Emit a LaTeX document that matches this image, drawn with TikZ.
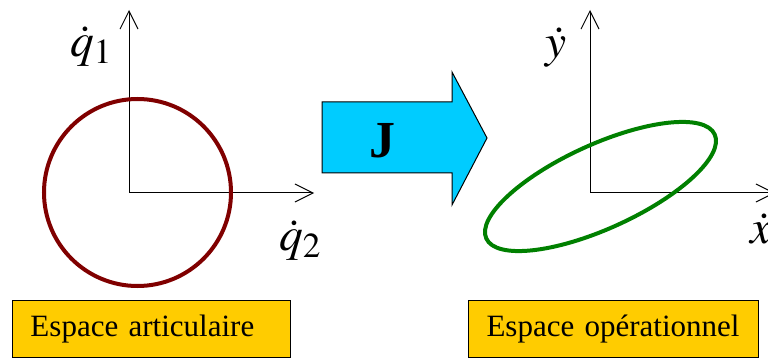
\documentclass[tikz,border=0pt]{standalone}
\usepackage{mathptmx}
\usepackage{fontspec}
\setmainfont{Liberation Serif}
\usetikzlibrary{arrows.meta,shapes.geometric}
\definecolor{dred}{RGB}{128,0,0}
\definecolor{dgreen}{RGB}{0,128,0}
\definecolor{jcyan}{RGB}{0,204,255}
\definecolor{boxorange}{RGB}{255,204,0}
\tikzset{
  axis/.style={line width=1pt, -{Straight Barb[length=18pt,width=18pt,line width=1pt]}},
  lbl/.style={font=\fontsize{38}{44}\selectfont, inner sep=0pt, scale=1.25},
  spacebox/.style={draw, fill=boxorange, line width=1pt, anchor=north west,
    minimum height=57pt, inner xsep=18pt, align=left,
    font=\fontsize{31}{36}\selectfont}
}
\begin{document}
\begin{tikzpicture}[x=1pt,y=-1pt]
\useasboundingbox (0,0) rectangle (768,358);
% left axes
\coordinate (O1) at (129,193);
\coordinate (Y1) at (129,10);
\coordinate (X1) at (314,193);
\draw[axis] (O1) -- (Y1);
\draw[axis] (O1) -- (X1);
\node[circle, draw=dred, line width=4pt, minimum size=187pt, inner sep=0pt] (circ) at (137.5,192.5) {};
\node[lbl] (lq1) at (91,46) {$\dot{q}_1$};
\node[lbl] (lq2) at (300,240) {$\dot{q}_2$};
% right axes
\coordinate (O2) at (590,193);
\coordinate (Y2) at (590,10);
\coordinate (X2) at (775,193);
\draw[axis] (O2) -- (Y2);
\draw[axis] (O2) -- (X2);
\node[ellipse, draw=dgreen, line width=4pt, minimum width=251pt, minimum height=84pt, inner sep=0pt, rotate=24.5] (ell) at (600.5,186.5) {};
\node[lbl] (ly) at (556,47) {$\dot{y}$};
\node[lbl] (lx) at (761,229) {$\dot{x}$};
% big arrow
\draw[fill=jcyan, line width=1pt] (322,102) -- (452,102) -- (452,72) -- (487,138) -- (452,205) -- (452,173) -- (322,173) -- cycle;
\node[font=\fontsize{52}{60}\selectfont\bfseries, inner sep=0pt] (J) at (382,141) {J};
% boxes
\node[spacebox, text width=242pt] (b1) at (12,300) {Espace articulaire};
\node[spacebox, text width=254pt] (b2) at (468,300) {Espace opérationnel};
\end{tikzpicture}
\end{document}
